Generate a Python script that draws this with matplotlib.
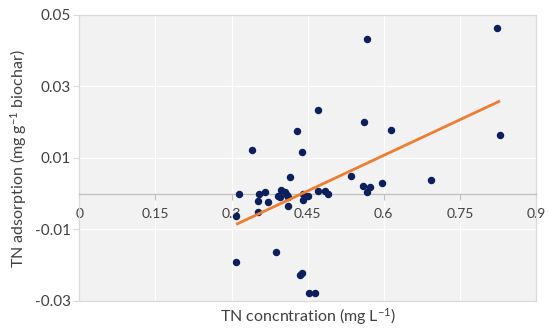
import matplotlib as mpl
import matplotlib.pyplot as plt
import numpy as np
from matplotlib.patches import Rectangle

# TN concentration (mg L-1) and TN adsorption (mg g-1 biochar)
tn_conc = [
    0.823, 0.567, 0.471, 0.561, 0.614, 0.428, 0.829, 0.340, 0.439, 0.416,
    0.535, 0.694, 0.597, 0.559, 0.572, 0.566, 0.315, 0.355, 0.366, 0.352,
    0.372, 0.352, 0.309, 0.397, 0.405, 0.410, 0.391, 0.395, 0.412, 0.411,
    0.441, 0.450, 0.441, 0.471, 0.484, 0.490, 0.388, 0.309, 0.435, 0.438,
    0.452, 0.464,
]
tn_ads = [
    0.0464, 0.0432, 0.0233, 0.0202, 0.0177, 0.0175, 0.0165, 0.0121, 0.0118, 0.0046,
    0.0050, 0.0039, 0.0031, 0.0021, 0.0020, 0.0004, -0.0002, -0.0002, 0.0006, -0.0019,
    -0.0023, -0.0050, -0.0063, 0.0011, 0.0004, -0.0003, -0.0005, -0.0009, -0.0009, -0.0033,
    0.0000, -0.0005, -0.0017, 0.0009, 0.0007, 0.0000, -0.0162, -0.0190, -0.0226, -0.0222,
    -0.0278, -0.0278,
]
x_ticks = [0, 0.15, 0.3, 0.45, 0.6, 0.75, 0.9]
x_tick_labels = ["0", "0.15", "0.3", "0.45", "0.6", "0.75", "0.9"]
y_ticks = [-0.03, -0.01, 0.01, 0.03, 0.05]
y_tick_labels = ["-0.03", "-0.01", "0.01", "0.03", "0.05"]

INK = "#404040"
PANEL = "#f2f2f2"
BORDER = "#d9d9d9"
AXIS = "#bfbfbf"
DOT = "#0d1f5c"
TREND = "#ed7d31"

mpl.rcParams.update({
    "font.family": ["Lato", "DejaVu Sans"],
    "mathtext.default": "regular",
    "text.color": INK,
    "xtick.color": INK,
    "ytick.color": INK,
})

fig = plt.figure(figsize=(5.5, 3.3), dpi=100)
ax = fig.add_axes([0.1442, 0.0879, 0.8304, 0.8667])
ax.set_facecolor(PANEL)

x = np.array(tn_conc)
y = np.array(tn_ads)
slope, intercept = np.polyfit(x, y, 1)
fit_x = np.array([x.min(), x.max()])

for gx in x_ticks[1:-1]:
    ax.axvline(gx, color="white", linewidth=0.9, zorder=0.6)
for gy in y_ticks[1:-1]:
    ax.axhline(gy, color="white", linewidth=0.9, zorder=0.6)

ax.scatter(x, y, s=19, color=DOT, zorder=3, clip_on=False)
ax.plot(fit_x, slope * fit_x + intercept, color=TREND, linewidth=2.0, zorder=4, solid_capstyle="butt")

ax.set_xlim(0, 0.9)
ax.set_ylim(-0.03, 0.05)
ax.set_xticks(x_ticks)
ax.set_xticklabels(x_tick_labels, fontsize=11)
ax.set_yticks(y_ticks)
ax.set_yticklabels(y_tick_labels, fontsize=11)

for side in ["top", "right", "left"]:
    ax.spines[side].set_visible(False)
ax.spines["bottom"].set_position(("data", 0))
ax.spines["bottom"].set_color(AXIS)
ax.spines["bottom"].set_linewidth(0.9)
ax.add_patch(Rectangle((0, 0), 1, 1, transform=ax.transAxes, fill=False,
                       edgecolor=BORDER, linewidth=0.9, zorder=2, clip_on=False))
ax.tick_params(axis="x", length=4, width=0.8, color=AXIS, pad=6)
ax.tick_params(axis="y", length=4, width=0.8, color=BORDER, pad=2)

fig.text(0.5596, 0.042, "TN concntration (mg L$^{-1}$)", ha="center", va="center", fontsize=11.5)
fig.text(0.033, 0.52, "TN adsorption (mg g$^{-1}$ biochar)", ha="center", va="center",
         rotation=90, fontsize=11.5)

fig.savefig("out.png", dpi=100)
